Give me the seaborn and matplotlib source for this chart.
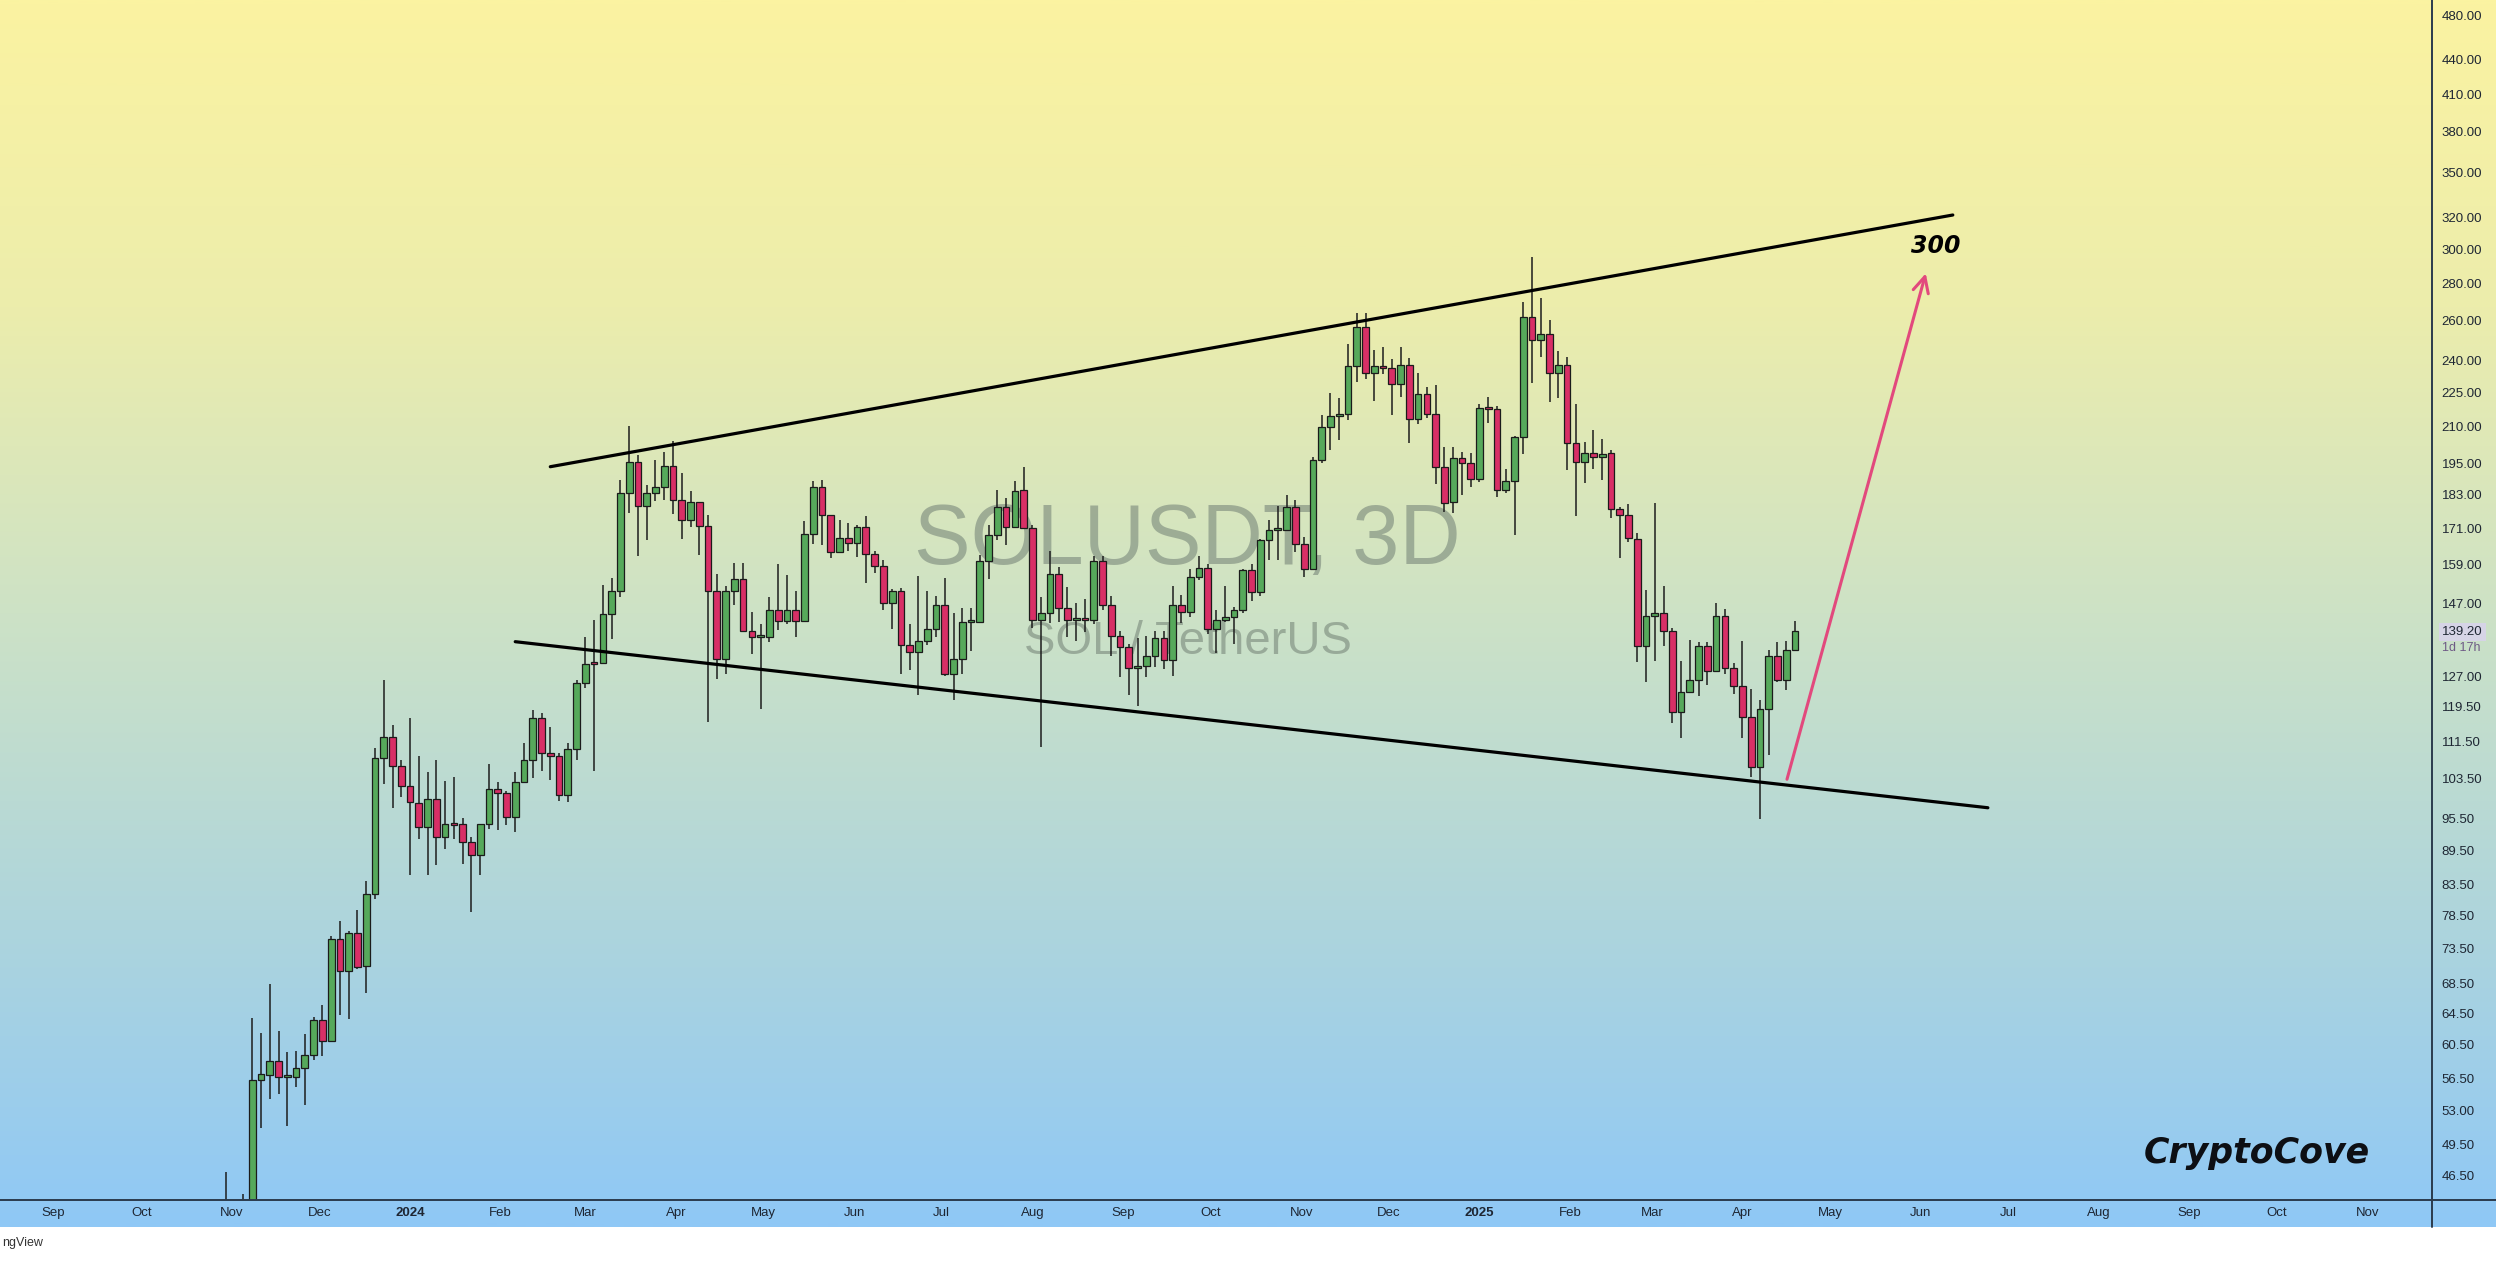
import numpy as np
import pandas as pd
import matplotlib
matplotlib.use("Agg")
import matplotlib.pyplot as plt
from matplotlib.lines import Line2D
from matplotlib.ticker import FixedLocator, FixedFormatter, NullLocator
from matplotlib.colors import LinearSegmentedColormap
import seaborn as sns

# ---- data (SOL/USDT, 3-day candles) ----
first_candle = "2023-10-30"

opens = [
    41.0, 43.0, 40.0, 42.5, 56.4, 56.9, 58.6, 56.7, 56.7, 57.7,
    59.3, 63.6, 61.0, 74.9, 70.2, 75.7, 70.9, 82.0, 107.8, 112.4,
    106.0, 101.8, 98.5, 93.8, 99.2, 92.0, 94.3, 94.3, 91.0, 88.6,
    94.3, 101.3, 100.5, 95.7, 102.7, 107.3, 116.8, 108.8, 108.2, 100.0,
    109.7, 125.4, 130.5, 130.4, 144.0, 150.8, 183.6, 195.5, 178.9, 183.6,
    185.9, 193.9, 181.1, 174.0, 180.4, 171.9, 150.9, 131.6, 150.9, 154.4,
    139.1, 137.4, 137.6, 145.3, 142.0, 145.2, 142.0, 169.1, 186.0, 175.7,
    163.2, 167.9, 166.0, 171.7, 162.4, 158.7, 147.1, 150.9, 135.2, 133.3,
    136.3, 139.6, 146.5, 127.6, 131.6, 141.8, 141.8, 160.3, 168.8, 178.5,
    171.7, 184.8, 171.2, 142.2, 144.2, 156.0, 145.9, 142.2, 142.5, 142.3,
    160.3, 146.6, 137.7, 134.8, 129.3, 129.8, 132.2, 137.1, 131.3, 146.6,
    144.5, 155.1, 158.1, 139.8, 142.4, 143.2, 145.3, 157.2, 150.4, 167.0,
    170.5, 170.5, 178.7, 165.8, 157.8, 196.3, 209.7, 214.6, 215.4, 237.2,
    256.4, 233.7, 237.2, 236.1, 228.8, 237.7, 213.1, 224.2, 215.6, 193.4,
    180.3, 197.0, 195.0, 188.8, 217.8, 217.6, 184.8, 188.3, 205.5, 261.7,
    249.9, 253.0, 233.9, 237.7, 203.0, 195.7, 199.0, 197.7, 199.3, 177.9,
    175.7, 167.5, 135.0, 143.4, 144.4, 139.3, 118.3, 123.2, 126.0, 135.0,
    128.5, 143.4, 129.2, 124.5, 117.1, 105.8, 119.0, 132.2, 126.0, 134.0,
]
highs = [
    46.8, 43.5, 44.8, 63.9, 61.9, 68.4, 62.2, 59.6, 59.8, 61.8,
    64.0, 65.6, 75.3, 77.7, 76.1, 79.4, 84.1, 109.9, 126.2, 115.2,
    107.4, 116.8, 108.1, 104.7, 107.4, 102.8, 103.7, 95.5, 91.9, 94.4,
    106.4, 102.7, 100.9, 104.7, 111.0, 118.6, 118.1, 114.6, 108.8, 111.0,
    126.0, 137.4, 142.4, 152.6, 154.7, 188.6, 210.2, 198.3, 186.6, 196.3,
    199.7, 204.1, 191.4, 184.5, 180.5, 175.7, 156.0, 152.3, 159.6, 159.6,
    144.6, 141.0, 149.1, 159.3, 155.7, 150.9, 173.8, 188.3, 188.6, 175.7,
    174.0, 172.9, 172.2, 175.4, 163.5, 160.6, 151.5, 151.6, 141.1, 155.5,
    150.9, 149.2, 154.7, 144.2, 145.9, 145.9, 162.2, 172.2, 184.8, 181.9,
    188.3, 193.7, 172.2, 149.1, 163.6, 158.2, 151.9, 147.3, 148.5, 161.9,
    161.8, 149.2, 139.1, 135.5, 137.2, 137.7, 139.3, 139.1, 152.3, 149.6,
    157.7, 161.9, 159.4, 145.2, 152.3, 146.0, 157.7, 159.2, 167.5, 174.0,
    178.9, 183.0, 181.1, 168.2, 197.6, 215.0, 224.8, 222.6, 247.9, 263.7,
    263.7, 245.0, 246.3, 240.4, 246.3, 241.0, 234.0, 227.2, 228.3, 201.7,
    201.4, 199.7, 199.0, 219.7, 223.0, 218.8, 192.8, 206.0, 269.9, 295.6,
    271.8, 260.3, 244.7, 241.7, 219.7, 203.7, 208.5, 205.0, 200.3, 178.6,
    179.7, 169.5, 151.0, 180.0, 152.3, 140.1, 131.1, 136.6, 136.1, 136.1,
    147.3, 145.4, 130.4, 136.4, 123.9, 121.0, 134.0, 136.1, 136.4, 141.9,
]
lows = [
    38.0, 38.5, 39.0, 41.5, 51.2, 54.2, 54.8, 51.4, 55.6, 53.6,
    58.7, 59.2, 60.8, 64.2, 63.7, 70.5, 67.1, 81.1, 102.2, 97.5,
    99.7, 85.1, 91.6, 85.2, 86.9, 89.8, 91.5, 87.0, 79.1, 85.1,
    93.4, 93.3, 94.2, 92.9, 102.7, 103.5, 104.9, 103.1, 98.8, 98.6,
    107.3, 124.2, 104.9, 130.3, 136.9, 149.0, 176.6, 162.0, 167.3, 180.9,
    181.1, 176.0, 167.4, 171.4, 162.2, 115.9, 126.4, 127.6, 146.6, 139.0,
    132.8, 118.9, 136.0, 139.4, 141.0, 137.4, 141.8, 165.8, 165.4, 161.1,
    163.0, 163.5, 161.5, 153.2, 156.3, 145.3, 139.6, 127.7, 128.6, 122.3,
    135.4, 137.5, 127.2, 121.0, 127.7, 133.8, 141.7, 154.6, 167.1, 165.5,
    171.5, 171.1, 139.9, 110.2, 141.4, 141.6, 137.5, 136.4, 138.8, 141.0,
    145.2, 132.3, 126.8, 122.4, 119.7, 126.8, 129.4, 129.0, 127.2, 141.3,
    143.0, 154.2, 138.4, 133.2, 141.6, 135.6, 144.4, 147.8, 149.4, 160.7,
    160.7, 170.4, 163.2, 155.1, 157.4, 195.0, 200.3, 204.4, 212.8, 229.6,
    231.0, 221.2, 233.4, 215.0, 223.0, 203.0, 211.3, 213.5, 187.0, 177.0,
    176.4, 183.0, 185.8, 188.0, 211.6, 182.4, 183.6, 168.8, 198.7, 229.1,
    241.7, 220.8, 222.3, 192.4, 175.5, 187.3, 193.0, 188.6, 174.8, 161.1,
    166.5, 130.8, 125.7, 130.9, 135.0, 115.6, 112.3, 123.1, 122.2, 124.9,
    128.4, 127.6, 122.6, 112.3, 103.7, 95.3, 108.4, 125.5, 123.6, 133.7,
]
closes = [
    43.0, 40.0, 42.5, 56.4, 57.0, 58.6, 56.7, 56.8, 57.7, 59.3,
    63.6, 61.0, 74.9, 70.2, 75.7, 70.8, 82.0, 107.8, 112.4, 106.0,
    101.8, 98.6, 93.8, 99.2, 92.0, 94.3, 94.2, 91.0, 88.6, 94.3,
    101.3, 100.5, 95.7, 102.7, 107.3, 116.8, 108.8, 108.2, 100.0, 109.7,
    125.4, 130.1, 130.3, 144.0, 150.8, 183.6, 195.5, 178.9, 183.6, 185.9,
    193.9, 181.1, 174.0, 180.4, 171.9, 150.9, 131.6, 150.9, 154.4, 139.1,
    137.4, 137.6, 145.3, 142.0, 145.2, 142.0, 169.1, 186.0, 175.7, 163.2,
    167.9, 166.0, 171.7, 162.4, 158.7, 147.1, 150.9, 135.2, 133.3, 136.3,
    139.6, 146.5, 127.5, 131.6, 141.8, 141.9, 160.3, 168.8, 178.5, 171.7,
    184.3, 171.2, 142.2, 144.2, 156.0, 145.9, 142.2, 142.3, 142.3, 160.3,
    146.6, 137.7, 134.8, 129.3, 129.8, 132.2, 137.1, 131.3, 146.6, 144.5,
    155.1, 158.1, 139.8, 142.4, 143.2, 145.3, 157.2, 150.4, 167.0, 170.5,
    170.6, 178.7, 165.8, 157.8, 196.3, 209.7, 214.6, 215.4, 237.2, 256.4,
    233.7, 237.2, 236.3, 228.8, 237.7, 213.1, 224.2, 215.6, 193.4, 180.0,
    197.0, 195.0, 188.8, 217.8, 217.6, 184.8, 188.3, 205.5, 261.7, 249.9,
    253.0, 233.9, 237.7, 203.0, 195.7, 199.0, 197.6, 198.8, 177.9, 175.7,
    167.7, 135.0, 143.4, 144.4, 139.3, 118.3, 123.2, 126.0, 135.0, 128.5,
    143.4, 129.2, 124.5, 117.1, 105.8, 119.0, 132.2, 126.0, 134.0, 139.2,
]

price_ticks = [480, 440, 410, 380, 350, 320, 300, 280, 260, 240, 225, 210,
               195, 183, 171, 159, 147, 127, 119.5, 111.5, 103.5, 95.5, 89.5,
               83.5, 78.5, 73.5, 68.5, 64.5, 60.5, 56.5, 53, 49.5, 46.5]

# channel drawn on the chart
upper_dates = ["2024-02-18", "2025-06-12"]
upper_prices = [193.7, 321.5]
lower_dates = ["2024-02-06", "2025-06-24"]
lower_prices = [136.2, 97.5]
arrow_from = ("2025-04-16", 102.7)
arrow_to = ("2025-06-03", 287.4)
target_text = "300"
target_pos = ("2025-06-06", 302.0)
last_price = 139.20
countdown = "1d 17h"

# ---- frame ----
W, H = 2496, 1263
plot_right = 2432
plot_bottom = 1200
strip_bottom = 1227

df = pd.DataFrame({"open": opens, "high": highs, "low": lows, "close": closes})
df["date"] = pd.date_range(first_candle, periods=len(df), freq="3D")
df["up"] = df["close"] >= df["open"]

sns.set_theme(style="white")
plt.rcParams["font.family"] = ["Liberation Sans", "DejaVu Sans"]

fig = plt.figure(figsize=(W / 100, H / 100), dpi=100)
fig.patch.set_facecolor("white")

# background gradient (chart + price scale + time scale)
bg = fig.add_axes([0, 1 - strip_bottom / H, 1, strip_bottom / H])
cmap = LinearSegmentedColormap.from_list(
    "tv_bg",
    [(0.0, "#fbf3a1"), (0.25, "#ecedac"), (0.5, "#cde2c6"),
     (0.75, "#aed5dc"), (1.0, "#8fc8f6")])
bg.imshow(np.linspace(0, 1, 512).reshape(-1, 1), aspect="auto", cmap=cmap,
          extent=[0, 1, 0, 1])
bg.axis("off")

ax = fig.add_axes([0, 1 - plot_bottom / H, plot_right / W, plot_bottom / H])
ax.patch.set_alpha(0)

# watermark
ax.text(0.4884, 0.5487, "SOLUSDT, 3D", transform=ax.transAxes, ha="center",
        va="center", fontsize=61, color="#78877a", alpha=0.6, zorder=0.5)
ax.text(0.4884, 0.465, "SOL / TetherUS", transform=ax.transAxes, ha="center",
        va="center", fontsize=34, color="#78877a", alpha=0.6, zorder=0.5)

# candles
ax.vlines(df["date"], df["low"], df["high"], color="#1d1d1d", lw=1.1, zorder=2)
body_low = df[["open", "close"]].min(axis=1)
body_h = (df["close"] - df["open"]).abs().clip(lower=body_low * 0.004)
ax.bar(df["date"], body_h, bottom=body_low, width=2.3,
       color=np.where(df["up"], "#56a95b", "#d82f66"),
       edgecolor="#1b1b1b", linewidth=0.9, zorder=3)

# channel lines
sns.lineplot(x=pd.to_datetime(upper_dates), y=upper_prices, ax=ax,
             color="black", lw=2.3, zorder=4)
sns.lineplot(x=pd.to_datetime(lower_dates), y=lower_prices, ax=ax,
             color="black", lw=2.3, zorder=4)
ax.annotate("", xy=(pd.Timestamp(arrow_to[0]), arrow_to[1]),
            xytext=(pd.Timestamp(arrow_from[0]), arrow_from[1]),
            arrowprops=dict(arrowstyle="->", color="#e2497d", lw=2.2,
                            mutation_scale=28), zorder=4)
ax.text(pd.Timestamp(target_pos[0]), target_pos[1], target_text,
        ha="center", va="center", fontsize=17, fontweight="bold",
        fontstyle="italic", color="black", family="DejaVu Sans", zorder=5)

# scales
ax.set_yscale("log")
ax.set_ylim(44.27, 495.6)
ax.set_xlim(pd.Timestamp("2023-08-13 16:00"), pd.Timestamp("2025-11-23"))

ax.yaxis.tick_right()
ax.yaxis.set_major_locator(FixedLocator(price_ticks))
ax.yaxis.set_major_formatter(FixedFormatter([f"{v:.2f}" for v in price_ticks]))
ax.yaxis.set_minor_locator(NullLocator())
ax.tick_params(axis="y", length=0, pad=7, labelsize=9.5, colors="#1e2633")

months = pd.date_range("2023-09-01", "2025-11-01", freq="MS")
ax.set_xticks(months)
ax.set_xticklabels([d.strftime("%Y") if d.month == 1 else d.strftime("%b")
                    for d in months])
ax.tick_params(axis="x", length=0, pad=5, labelsize=9.5, colors="#1e2633")
for lbl in ax.get_xticklabels():
    if lbl.get_text().isdigit():
        lbl.set_fontweight("bold")
ax.set_xlabel("")
ax.set_ylabel("")
for s in ax.spines.values():
    s.set_visible(False)

# scale borders
fig.add_artist(Line2D([0, 1], [1 - plot_bottom / H] * 2, color="#2b3b4d",
                      lw=1.4, transform=fig.transFigure))
fig.add_artist(Line2D([plot_right / W] * 2, [1 - strip_bottom / H, 1],
                      color="#2b3b4d", lw=1.4, transform=fig.transFigure))

# current price tag
fig.text(2442 / W, 1 - 632 / H, f"{last_price:.2f}", ha="left", va="center",
         fontsize=9.5, color="#1e2633",
         bbox=dict(boxstyle="square,pad=0.25", fc="#d6d4e6", ec="none"))
fig.text(2442 / W, 1 - 648 / H, countdown, ha="left", va="center",
         fontsize=9, color="#6e5a86")

fig.text(0.9043, 0.087, "CryptoCove", ha="center", va="center", fontsize=25,
         fontweight="bold", fontstyle="italic", color="#0d0f14",
         family="DejaVu Sans")
fig.text(0.001, 1 - 1243 / H, "ngView", ha="left", va="center", fontsize=9,
         color="#333333")

fig.savefig("out.png", dpi=100)
